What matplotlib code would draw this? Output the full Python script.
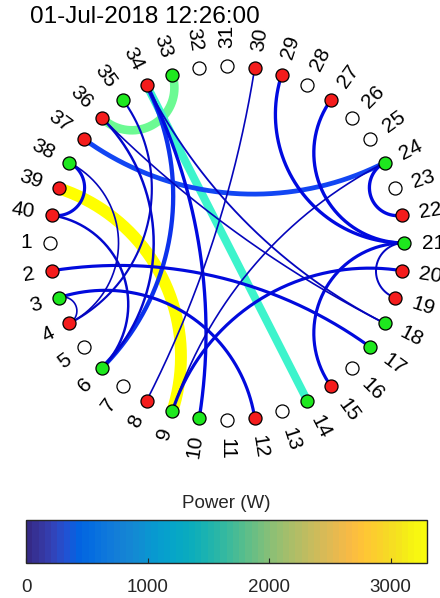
import numpy as np
import matplotlib
matplotlib.use("Agg")
import matplotlib.pyplot as plt
from matplotlib.colors import LinearSegmentedColormap, Normalize
from matplotlib.cm import ScalarMappable

plt.rcParams['font.family'] = ['Liberation Sans', 'DejaVu Sans']

# ---------------------------------------------------------------- data
timestamp = '01-Jul-2018 12:26:00'
node_labels = [str(k) for k in range(1, 41)]
# w = idle, r = generating, g = consuming
node_state = ['w', 'r', 'g', 'r', 'w', 'g', 'w', 'r', 'g', 'g',
              'w', 'r', 'w', 'g', 'r', 'w', 'g', 'g', 'r', 'r',
              'g', 'r', 'w', 'g', 'w', 'w', 'r', 'w', 'r', 'r',
              'w', 'w', 'g', 'r', 'g', 'r', 'r', 'g', 'r', 'r']

edge_from = [36, 39, 34, 37, 34, 34, 29, 27, 2, 3, 9, 15, 22, 38,
             40, 36, 35, 19, 34, 36, 38, 3, 8, 9]
edge_to = [33, 9, 14, 24, 6, 10, 21, 21, 17, 12, 20, 21, 24, 40,
           6, 6, 4, 21, 18, 18, 4, 4, 30, 24]
edge_power = [2300, 3300, 2150, 1150, 1000, 700, 700, 700, 650, 650, 650, 650, 700, 650,
              450, 450, 350, 300, 250, 200, 200, 200, 200, 200]

power_min, power_max = 0, 3300
cbar_ticks = [0, 1000, 2000, 3000]
cbar_label = 'Power (W)'

# colour stops used for the flow lines (power in W -> RGB)
edge_stop_power = [0, 200, 700, 1200, 2150, 2300, 3300]
edge_stop_rgb = [(0.00, 0.00, 0.55), (0.02, 0.02, 0.74), (0.00, 0.04, 0.88),
                 (0.08, 0.30, 0.96), (0.24, 0.96, 0.80), (0.42, 0.98, 0.58),
                 (1.00, 1.00, 0.00)]

# parula colour table (subsampled)
parula_rgb = [
    (0.2081, 0.1663, 0.5292), (0.2123, 0.2138, 0.6270), (0.1959, 0.2645, 0.7279),
    (0.1253, 0.3242, 0.8303), (0.0117, 0.3875, 0.8820), (0.0165, 0.4266, 0.8786),
    (0.0498, 0.4586, 0.8641), (0.0723, 0.4887, 0.8467), (0.0793, 0.5200, 0.8312),
    (0.0641, 0.5570, 0.8240), (0.0343, 0.5966, 0.8199), (0.0239, 0.6287, 0.8038),
    (0.0228, 0.6535, 0.7768), (0.0384, 0.6743, 0.7436), (0.0843, 0.6928, 0.7062),
    (0.1453, 0.7098, 0.6646), (0.2178, 0.7250, 0.6193), (0.3022, 0.7376, 0.5712),
    (0.3953, 0.7459, 0.5244), (0.4871, 0.7491, 0.4840), (0.5709, 0.7485, 0.4494),
    (0.6473, 0.7456, 0.4188), (0.7184, 0.7411, 0.3905), (0.7858, 0.7356, 0.3633),
    (0.8507, 0.7299, 0.3360), (0.9139, 0.7258, 0.3063), (0.9739, 0.7314, 0.2666),
    (0.9990, 0.7653, 0.2164), (0.9880, 0.8066, 0.1794), (0.9697, 0.8481, 0.1475),
    (0.9589, 0.8949, 0.1132), (0.9661, 0.9514, 0.0755), (0.9763, 0.9831, 0.0538),
]
parula = LinearSegmentedColormap.from_list('parula', parula_rgb, N=64)
edge_cmap = LinearSegmentedColormap.from_list(
    'flow', [(p / edge_stop_power[-1], c) for p, c in zip(edge_stop_power, edge_stop_rgb)])
edge_norm = Normalize(0, edge_stop_power[-1])

# ---------------------------------------------------------------- layout
W_PX, H_PX = 440, 598
CX, CY, R_PX = 227, 243, 177          # circle centre / radius in pixels
TOP_H = 470                           # height of the graph panel in pixels

fig = plt.figure(figsize=(W_PX / 100, H_PX / 100), dpi=100)
ax = fig.add_axes([0, 1 - TOP_H / H_PX, 1, TOP_H / H_PX])
ax.set_xlim(-CX / R_PX, (W_PX - CX) / R_PX)
ax.set_ylim(-(TOP_H - CY) / R_PX, CY / R_PX)
ax.axis('off')

n = len(node_labels)
theta = np.deg2rad(180.0 + 9.0 * np.arange(n))
theta = np.arctan2(np.sin(theta), np.cos(theta))
px, py = np.cos(theta), np.sin(theta)


def edge_path(i, j):
    """Circular arc orthogonal to the unit circle joining nodes i and j."""
    u = np.array([px[i], py[i]])
    v = np.array([px[j], py[j]])
    d = np.arccos(np.clip(u @ v, -1, 1))
    if abs(d - np.pi) < 1e-6:
        return np.array([u[0], v[0]]), np.array([u[1], v[1]])
    c = (u + v) / (1 + np.cos(d))
    r = np.tan(d / 2)
    a1 = np.arctan2(u[1] - c[1], u[0] - c[0])
    a2 = np.arctan2(v[1] - c[1], v[0] - c[0])
    da = (a2 - a1 + np.pi) % (2 * np.pi) - np.pi
    t = a1 + np.linspace(0, 1, 200) * da
    return c[0] + r * np.cos(t), c[1] + r * np.sin(t)


for k, (a, b, p) in enumerate(zip(edge_from, edge_to, edge_power)):
    xs, ys = edge_path(a - 1, b - 1)
    lw_px = 1.0 + p * 0.0033
    ax.plot(xs, ys, color=edge_cmap(edge_norm(p)), lw=lw_px * 0.72,
            solid_capstyle='butt', zorder=2 + k * 0.01)

face = {'w': 'white', 'r': '#f41c1c', 'g': '#1ee81e'}
for k in range(n):
    ax.plot(px[k], py[k], 'o', ms=9.4, mfc=face[node_state[k]], mec='black',
            mew=0.9, zorder=5)
    t = theta[k]
    if abs(t) > np.pi / 2 + 1e-9:
        rot = 180 * (t / np.pi + 1)
        ha = 'right'
    else:
        rot = np.rad2deg(t)
        ha = 'left'
    ax.text(1.1 * px[k], 1.1 * py[k], node_labels[k], rotation=rot,
            rotation_mode='anchor', ha=ha, va='center', fontsize=15,
            color='black')

fig.text(30 / W_PX, 1 - 23 / H_PX, timestamp, fontsize=17.5, ha='left',
         va='baseline', color='black')

# ---------------------------------------------------------------- colour bar
cax = fig.add_axes([26 / W_PX, (H_PX - 563) / H_PX, 401 / W_PX, 43 / H_PX])
sm = ScalarMappable(norm=Normalize(power_min, power_max), cmap=parula)
cb = fig.colorbar(sm, cax=cax, orientation='horizontal', ticks=cbar_ticks)
cb.outline.set_edgecolor('#262626')
cb.outline.set_linewidth(1.0)
cax.tick_params(axis='x', direction='in', length=3.5, width=0.8,
                color='#262626', labelsize=13.5, labelcolor='#262626', pad=11.5)
cax.set_xticklabels([str(v) for v in cbar_ticks])
cax.set_title(cbar_label, fontsize=13.5, color='#262626', pad=9)

fig.savefig('out.png', dpi=100)
